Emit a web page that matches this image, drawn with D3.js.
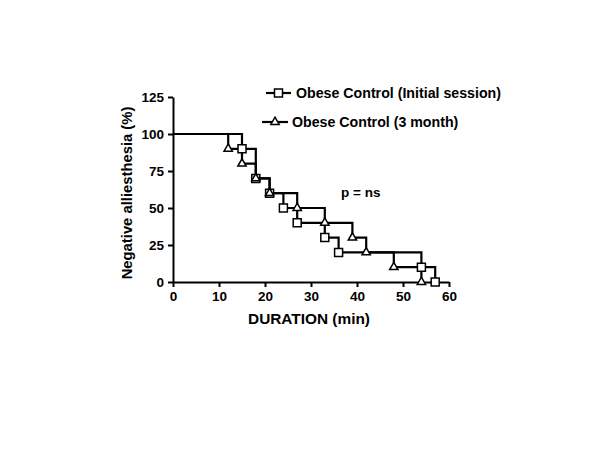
<!DOCTYPE html>
<html><head><meta charset="utf-8">
<script src="https://cdn.jsdelivr.net/npm/d3@7"></script>
<style>body{margin:0;background:#fff} text{font-family:"Liberation Sans",Arial,sans-serif;font-weight:bold;fill:#000}</style>
</head><body><svg id="c" width="600" height="450"></svg>
<script>
const seriesNames=["Obese Control (Initial session)","Obese Control (3 month)"];
const initialTimes=[0,15,18,21,24,27,33,36,54,57];
const initialSurvival=[100,90,70,60,50,40,30,20,10,0];
const monthTimes=[0,12,15,18,21,27,33,39,42,48,54];
const monthSurvival=[100,90,80,70,60,50,40,30,20,10,0];
const xTicks=[0,10,20,30,40,50,60];
const yTicks=[0,25,50,75,100,125];

const svg=d3.select("#c");
const x=d3.scaleLinear().domain([0,60]).range([173,449]);
const y=d3.scaleLinear().domain([0,125]).range([282,97]);

const xa=svg.append("g").attr("transform","translate(0,282)")
  .call(d3.axisBottom(x).tickValues(xTicks).tickSize(5).tickSizeOuter(0).tickPadding(4));
const ya=svg.append("g").attr("transform","translate(173,0)")
  .call(d3.axisLeft(y).tickValues(yTicks).tickSize(5).tickSizeOuter(0).tickPadding(4));
[xa,ya].forEach(a=>{
  a.selectAll("path,line").attr("stroke","#000").attr("stroke-width",2);
  a.selectAll("text").style("font-size","13.5px").style("font-family","'Liberation Sans',Arial,sans-serif").style("font-weight","bold").attr("fill","#000");
});

svg.append("text").attr("x",309).attr("y",323.5).attr("text-anchor","middle").style("font-size","15.4px").text("DURATION (min)");
svg.append("text").attr("transform","translate(132,193) rotate(-90)").attr("text-anchor","middle").style("font-size","14.8px").text("Negative alliesthesia (%)");
svg.append("text").attr("x",341).attr("y",197).style("font-size","13.5px").text("p = ns");

const line=d3.line().x(d=>x(d[0])).y(d=>y(d[1])).curve(d3.curveStepAfter);
const sq=d3.symbol().type(d3.symbolSquare).size(64);
const tri=d3.symbol().type(d3.symbolTriangle).size(30);
const series=[
  {t:initialTimes,s:initialSurvival,sym:sq},
  {t:monthTimes,s:monthSurvival,sym:tri}
];
series.forEach(se=>{
  const pts=se.t.map((t,i)=>[t,se.s[i]]);
  svg.append("path").attr("d",line(pts)).attr("fill","none").attr("stroke","#000").attr("stroke-width",2.2);
});
series.forEach(se=>{
  const pts=se.t.map((t,i)=>[t,se.s[i]]).slice(1);
  svg.append("g").selectAll("path").data(pts).join("path")
    .attr("d",se.sym).attr("transform",d=>`translate(${x(d[0])},${y(d[1])})`)
    .attr("fill","#fff").attr("stroke","#000").attr("stroke-width",1.5);
});

// legend
const leg=[{x1:266,x2:291,y:93,tx:296,sym:sq},{x1:262,x2:288,y:122,tx:292,sym:tri}];
leg.forEach((l,i)=>{
  svg.append("line").attr("x1",l.x1).attr("x2",l.x2).attr("y1",l.y).attr("y2",l.y).attr("stroke","#000").attr("stroke-width",2.2);
  svg.append("path").attr("d",l.sym).attr("transform",`translate(${(l.x1+l.x2)/2},${l.y})`).attr("fill","#fff").attr("stroke","#000").attr("stroke-width",1.5);
  svg.append("text").attr("x",l.tx).attr("y",l.y+5).style("font-size","14.2px").text(seriesNames[i]);
});
</script></body></html>
